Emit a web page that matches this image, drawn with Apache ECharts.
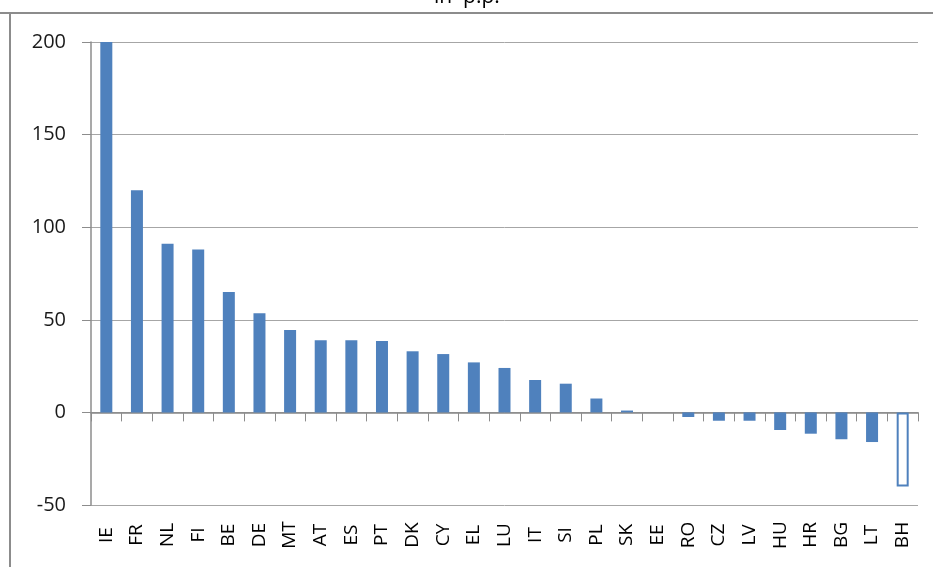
<!DOCTYPE html>
<html>
<head>
<meta charset="utf-8">
<script src="https://cdn.jsdelivr.net/npm/echarts@6/dist/echarts.min.js"></script>
<style>html,body{margin:0;padding:0;background:#fff}#c{width:933px;height:567px}</style>
</head>
<body>
<div id="c"></div>
<script>
var categories = ['IE','FR','NL','FI','BE','DE','MT','AT','ES','PT','DK','CY','EL','LU','IT','SI','PL','SK','EE','RO','CZ','LV','HU','HR','BG','LT','BH'];
var values = [200,120,91,88,65,53.5,44.5,39,39,38.5,33,31.5,27,24,17.5,15.5,7.5,1,0,-2.5,-4.5,-4.5,-9.5,-11.5,-14.5,-16,-40];
var outlinedCategory = 'BH';
var yTicks = {min: -50, max: 200, interval: 50};
var titleText = 'in  p.p.';

var blue = '#4F81BD';
var grey = '#8C8C8C';
var data = values.map(function (v, i) {
  if (categories[i] === outlinedCategory) {
    return {value: v, itemStyle: {color: '#ffffff', borderColor: blue, borderWidth: 2}};
  }
  return v;
});

var chart = echarts.init(document.getElementById('c'), null, {renderer: 'canvas'});
chart.setOption({
  animation: false,
  backgroundColor: '#ffffff',
  grid: {left: 91, right: 15, top: 42, bottom: 62, containLabel: false},
  graphic: [
    {type: 'line', shape: {x1: 0, y1: 13, x2: 933, y2: 13}, style: {stroke: grey, lineWidth: 2}},
    {type: 'line', shape: {x1: 10, y1: 13, x2: 10, y2: 567}, style: {stroke: grey, lineWidth: 2}},
    {type: 'text', left: 434, top: -13, style: {text: titleText, font: '21px "Open Sans"', fill: '#000'}}
  ],
  xAxis: [
    {
      type: 'category', data: categories, position: 'bottom',
      axisLine: {show: true, onZero: true, lineStyle: {color: '#868686', width: 1.5}},
      axisTick: {show: true, interval: 0, length: 9, lineStyle: {color: grey}},
      axisLabel: {show: false},
      splitLine: {show: false}
    },
    {
      type: 'category', data: categories, position: 'bottom',
      axisLine: {show: false, onZero: false},
      axisTick: {show: false},
      axisLabel: {show: true, interval: 0, rotate: 90, margin: 30, align: 'center', verticalAlign: 'middle',
        fontFamily: '"Open Sans"', fontSize: 19, color: '#000'},
      splitLine: {show: false}
    }
  ],
  yAxis: {
    type: 'value', min: yTicks.min, max: yTicks.max, interval: yTicks.interval,
    axisLine: {show: true, lineStyle: {color: grey, width: 1.5}},
    axisTick: {show: true, length: 9, lineStyle: {color: grey}},
    axisLabel: {margin: 25, fontFamily: '"Open Sans"', fontSize: 20, color: '#1a1a1a'},
    splitLine: {show: true, lineStyle: {color: '#A6A6A6', width: 1}}
  },
  series: [{
    type: 'bar', xAxisIndex: 0, data: data, barWidth: 12,
    itemStyle: {color: blue}
  }]
});
</script>
</body>
</html>
